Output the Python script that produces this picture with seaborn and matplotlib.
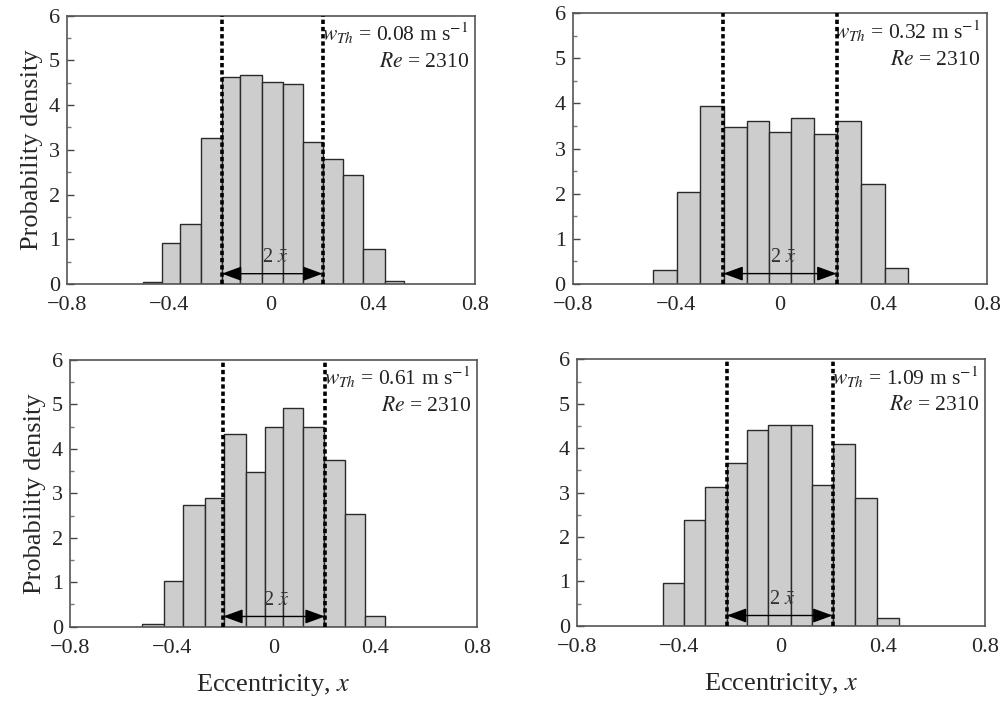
import numpy as np
import pandas as pd
import matplotlib
matplotlib.use('Agg')
import matplotlib.pyplot as plt
from matplotlib.ticker import MultipleLocator
import seaborn as sns

# bin edges and heights
edges_a = [-0.503, -0.426, -0.357, -0.276, -0.193, -0.122, -0.034, 0.048, 0.127, 0.203, 0.284, 0.360, 0.447, 0.523]
dens_a = [0.05, 0.92, 1.35, 3.27, 4.62, 4.68, 4.52, 4.47, 3.18, 2.80, 2.43, 0.78, 0.06]

edges_b = [-0.488, -0.398, -0.308, -0.215, -0.128, -0.040, 0.044, 0.134, 0.223, 0.314, 0.405, 0.497]
dens_b = [0.30, 2.04, 3.95, 3.47, 3.61, 3.37, 3.67, 3.33, 3.61, 2.21, 0.36]

edges_c = [-0.515, -0.430, -0.354, -0.271, -0.196, -0.109, -0.034, 0.038, 0.117, 0.198, 0.282, 0.361, 0.440]
dens_c = [0.05, 1.03, 2.74, 2.89, 4.34, 3.49, 4.50, 4.93, 4.50, 3.75, 2.54, 0.23]

edges_d = [-0.460, -0.378, -0.297, -0.212, -0.134, -0.049, 0.039, 0.123, 0.206, 0.291, 0.378, 0.464]
dens_d = [0.97, 2.38, 3.12, 3.66, 4.41, 4.51, 4.51, 3.18, 4.09, 2.87, 0.18]

# dashed limits (+/- mean eccentricity)
xbar_lines = [(-0.193, 0.203), (-0.218, 0.220), (-0.198, 0.202), (-0.212, 0.203)]
w_th = ['0.08', '0.32', '0.61', '1.09']
re_val = '2310'

xticks = [-0.8, -0.4, 0, 0.4, 0.8]
xtick_labels = ['\u22120.8', '\u22120.4', '0', '0.4', '0.8']
yticks = [0, 1, 2, 3, 4, 5, 6]

sns.set_style('white')
plt.rcParams['font.family'] = ['Liberation Serif', 'DejaVu Serif']
plt.rcParams['mathtext.fontset'] = 'stix'

fig = plt.figure(figsize=(10.04, 7.01), dpi=100)
positions = [
    [0.0667, 0.5949, 0.4064, 0.3827],
    [0.5704, 0.5949, 0.4124, 0.3862],
    [0.0697, 0.1060, 0.4054, 0.3805],
    [0.5744, 0.1074, 0.4067, 0.3800],
]
panels = [(edges_a, dens_a), (edges_b, dens_b), (edges_c, dens_c), (edges_d, dens_d)]

for i, (edges, dens) in enumerate(panels):
    ax = fig.add_axes(positions[i])
    centers = [(edges[k] + edges[k + 1]) / 2 for k in range(len(dens))]
    df = pd.DataFrame({'x': centers, 'w': dens})
    sns.histplot(data=df, x='x', weights='w', bins=edges, stat='count',
                 color='#cdcdcd', edgecolor='#2a2a2a', linewidth=1.0, alpha=1, ax=ax)

    lo, hi = xbar_lines[i]
    for xv in (lo, hi):
        ax.plot([xv, xv], [0, 6], color='black', linewidth=2.6,
                linestyle=(0, (1.2, 0.8)), zorder=4)
    ax.annotate('', xy=(lo, 0.23), xytext=(hi, 0.23),
                arrowprops=dict(arrowstyle='<|-|>,head_length=0.55,head_width=0.2',
                                color='black', lw=1.0, mutation_scale=22,
                                shrinkA=0, shrinkB=0), zorder=5)
    ax.text((lo + hi) / 2 + 0.01, 0.38, r'2 $\bar{x}$', ha='center', va='bottom',
            fontsize=14.5, color='#333333', zorder=5)

    ax.text(0.775, 5.6, r'$w_{Th}$ = ' + w_th[i] + r' m s$^{-1}$', ha='right', va='center',
            fontsize=15.5, color='#222222')
    ax.text(0.775, 4.95, r'$Re$ = ' + re_val, ha='right', va='center',
            fontsize=15.5, color='#222222')

    ax.set_xlim(-0.8, 0.8)
    ax.set_ylim(0, 6)
    ax.set_xticks(xticks)
    ax.set_xticklabels(xtick_labels)
    ax.set_yticks(yticks)
    ax.xaxis.set_minor_locator(MultipleLocator(0.2))
    ax.yaxis.set_minor_locator(MultipleLocator(0.5))
    ax.tick_params(axis='x', which='major', direction='out', length=5, width=1,
                   color='#444444', labelsize=16, pad=4)
    ax.tick_params(axis='x', which='minor', direction='out', length=3, width=1, color='#777777')
    ax.tick_params(axis='y', which='major', direction='in', length=5, width=1,
                   color='#444444', labelsize=16, pad=5, left=True)
    ax.tick_params(axis='y', which='minor', direction='in', length=3, width=1,
                   color='#777777', left=True)
    for sp in ax.spines.values():
        sp.set_color('#555555')
        sp.set_linewidth(1.2)
    ax.set_ylabel('')
    ax.set_xlabel('')
    if i in (0, 2):
        ax.set_ylabel('Probability density', fontsize=19, labelpad=4)
    if i in (2, 3):
        ax.set_xlabel(r'Eccentricity, $x$', fontsize=19, labelpad=10)

fig.savefig('out.png', dpi=100)
